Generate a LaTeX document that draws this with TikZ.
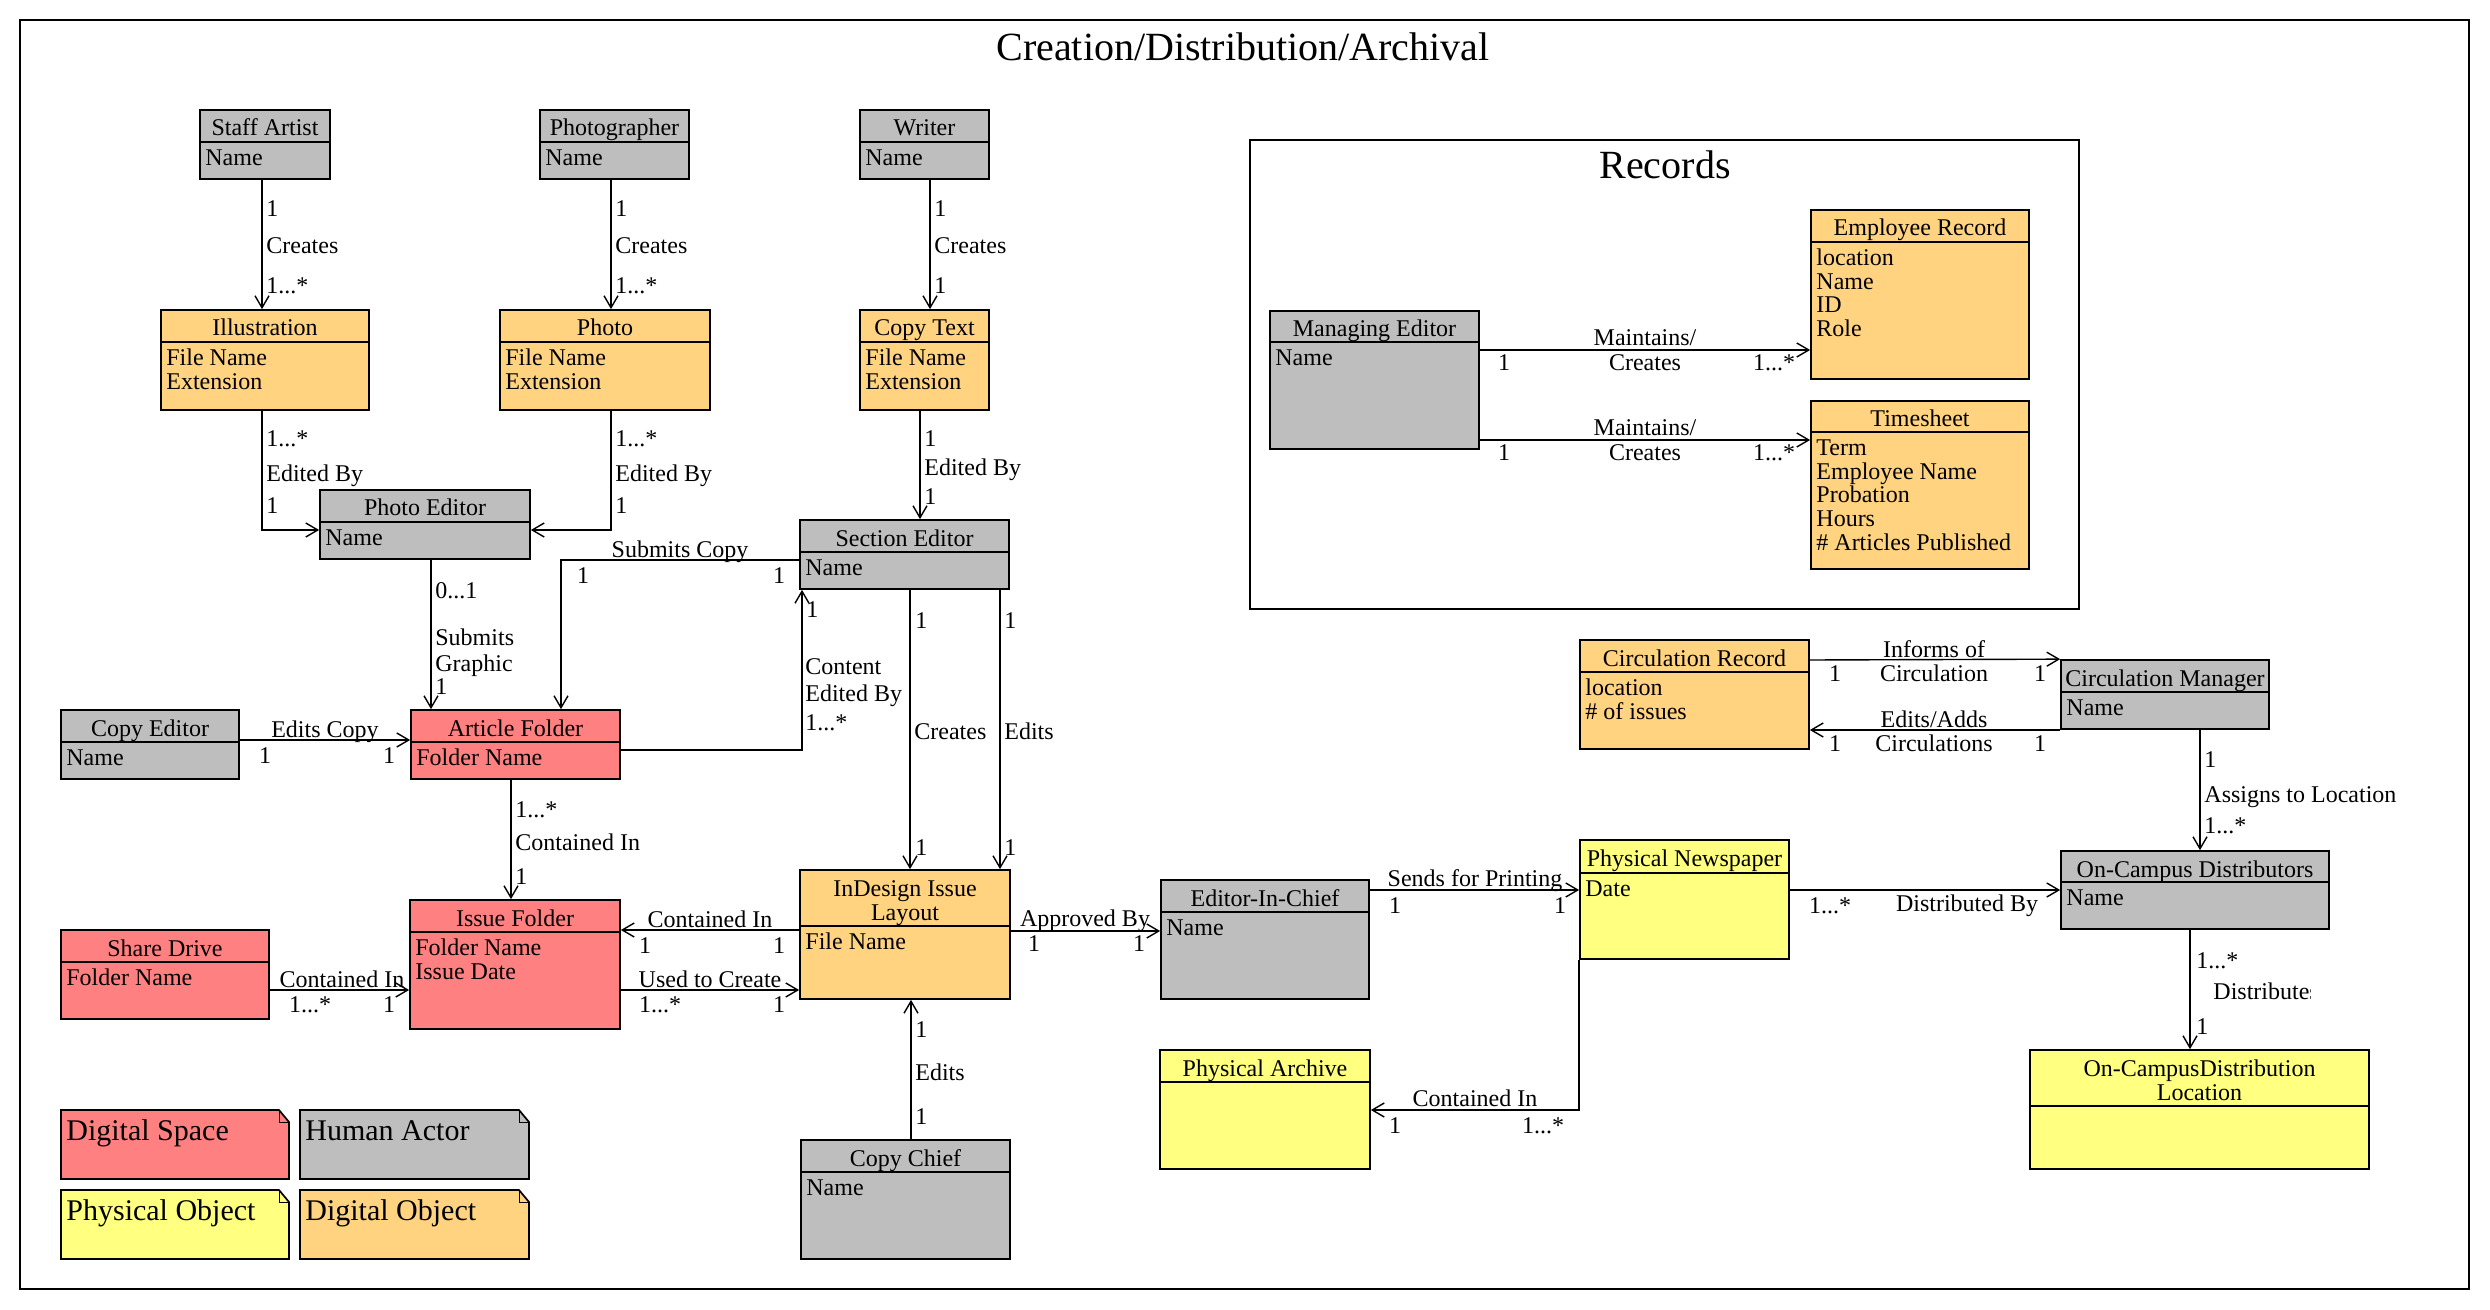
\documentclass[tikz,border=0pt]{standalone}
\usepackage{fontspec}
\setmainfont{Liberation Serif}
\usetikzlibrary{arrows.meta,fit}
\definecolor{actor}{RGB}{190,190,190}
\definecolor{dobj}{RGB}{255,211,128}
\definecolor{dspace}{RGB}{255,128,128}
\definecolor{pobj}{RGB}{255,255,128}
\tikzset{
 classbox/.style={draw, line width=0.85pt, inner sep=0pt},
 divline/.style={line width=0.85pt},
 txt/.style={inner sep=0pt, font=\fontsize{12}{14}\selectfont},
 bigtxt/.style={inner sep=0pt, font=\fontsize{20}{24}\selectfont},
 notetxt/.style={inner sep=0pt, font=\fontsize{15}{18}\selectfont},
 conn/.style={line width=0.7pt, -{Straight Barb[length=6pt,width=7pt]}},
 frameline/.style={line width=0.85pt},
}
\newcount\labn
% name, x1, y1, x2, y2, ydiv, fill, title lines, attribute lines
\newcommand\umlclass[9]{%
 \node[classbox, fill=#7, fit={(#2,#3) (#4,#5)}] (#1) {};
 \draw[divline] (#2,#6) -- (#4,#6);
 \foreach \ttl [count=\j] in {#8} {\node[txt, anchor=base] (#1-t\j) at ({(#2+#4)/2},{#3+26+(\j-1)*24.5}) {\ttl};}
 \foreach \attr [count=\i] in {#9} {\node[txt, anchor=base west] (#1-a\i) at ({#2+5},{#6+23.5+(\i-1)*23.7}) {\attr};}
}
\newcommand\edgelabL[3]{\global\advance\labn by 1 \node[txt, anchor=base west] (lab\the\labn) at (#1,{#2+8}) {#3};}
\newcommand\edgelabC[3]{\global\advance\labn by 1 \node[txt, anchor=base] (lab\the\labn) at (#1,{#2+8}) {#3};}
% name, x1, y1, x2, y2, fill, text
\newcommand\legendnote[7]{%
 \draw[classbox, fill=#6] (#2,#3) -- ({#4-10},#3) -- (#4,{#3+12}) -- (#4,#5) -- (#2,#5) -- cycle;
 \draw[line width=0.5pt] ({#4-10},#3) -- ({#4-10},{#3+12}) -- (#4,{#3+12});
 \node[notetxt, anchor=base west] (#1) at ({#2+5},{#3+30}) {#7};
}
\begin{document}
\begin{tikzpicture}[x=0.5pt,y=-0.5pt]
\useasboundingbox (0,0) rectangle (2490,1310);
\fill[white] (0,0) rectangle (2490,1310);
\draw[frameline] (20,20) rectangle (2469,1289);
\node[bigtxt, anchor=base] (title) at (1243,61) {Creation/Distribution/Archival};
\draw[frameline] (1250,140) rectangle (2079,609);
\node[bigtxt, anchor=base] (rectitle) at (1665,179) {Records};

% classes
\umlclass{sa}{200}{110}{330}{179}{142}{actor}{Staff Artist}{Name}
\umlclass{pg}{540}{110}{689}{179}{142}{actor}{Photographer}{Name}
\umlclass{wr}{860}{110}{989}{179}{142}{actor}{Writer}{Name}
\umlclass{ill}{161}{310}{369}{410}{342}{dobj}{Illustration}{File Name, Extension}
\umlclass{ph}{500}{310}{710}{410}{342}{dobj}{Photo}{File Name, Extension}
\umlclass{ct}{860}{310}{989}{410}{342}{dobj}{Copy Text}{File Name, Extension}
\umlclass{pe}{320}{490}{530}{559}{522}{actor}{Photo Editor}{Name}
\umlclass{se}{800}{520}{1009}{589}{552}{actor}{Section Editor}{Name}
\umlclass{ce}{61}{710}{239}{779}{742}{actor}{Copy Editor}{Name}
\umlclass{af}{411}{710}{620}{779}{742}{dspace}{Article Folder}{Folder Name}
\umlclass{if}{410}{900}{620}{1029}{932}{dspace}{Issue Folder}{Folder Name, Issue Date}
\umlclass{sd}{61}{930}{269}{1019}{962}{dspace}{Share Drive}{Folder Name}
\umlclass{id}{800}{870}{1010}{999}{926}{dobj}{InDesign Issue, Layout}{File Name}
\umlclass{cc}{801}{1140}{1010}{1259}{1172}{actor}{Copy Chief}{Name}
\umlclass{eic}{1161}{880}{1369}{999}{912}{actor}{Editor-In-Chief}{Name}
\umlclass{pn}{1580}{840}{1789}{959}{873}{pobj}{Physical Newspaper}{Date}
\umlclass{pa}{1160}{1050}{1370}{1169}{1082}{pobj}{Physical Archive}{}
\umlclass{cr}{1580}{640}{1809}{749}{672}{dobj}{Circulation Record}{location, \# of issues}
\umlclass{cm}{2061}{660}{2269}{729}{692}{actor}{Circulation Manager}{Name}
\umlclass{ocd}{2061}{851}{2329}{929}{882}{actor}{On-Campus Distributors}{Name}
\umlclass{ocdl}{2030}{1050}{2369}{1169}{1106}{pobj}{On-CampusDistribution, Location}{}
\umlclass{me}{1270}{311}{1479}{449}{342}{actor}{Managing Editor}{Name}
\umlclass{er}{1811}{210}{2029}{379}{242}{dobj}{Employee Record}{location, Name, ID, Role}
\umlclass{ts}{1811}{401}{2029}{569}{432}{dobj}{Timesheet}{Term, Employee Name, Probation, Hours, \# Articles Published}

% legend
\legendnote{lg1}{61}{1110}{289}{1179}{dspace}{Digital Space}
\legendnote{lg2}{300}{1110}{529}{1179}{actor}{Human Actor}
\legendnote{lg3}{61}{1190}{289}{1259}{pobj}{Physical Object}
\legendnote{lg4}{300}{1190}{529}{1259}{dobj}{Digital Object}

% connectors
\draw[conn] (262,0 |- sa.south) -- (262,0 |- ill.north);
\edgelabL{266}{209}{1}\edgelabL{266}{246}{Creates}\edgelabL{266}{286}{1...*}
\draw[conn] (611,0 |- pg.south) -- (611,0 |- ph.north);
\edgelabL{615}{209}{1}\edgelabL{615}{246}{Creates}\edgelabL{615}{286}{1...*}
\draw[conn] (262,0 |- ill.south) |- (pe.west |- 0,530);
\edgelabL{266}{439}{1...*}\edgelabL{266}{473}{Edited By}\edgelabL{266}{506}{1}
\draw[conn] (611,0 |- ph.south) |- (pe.east |- 0,530);
\edgelabL{615}{439}{1...*}\edgelabL{615}{473}{Edited By}\edgelabL{615}{506}{1}
\draw[conn] (930,0 |- wr.south) -- (930,0 |- ct.north);
\edgelabL{934}{209}{1}\edgelabL{934}{246}{Creates}\edgelabL{934}{286}{1}
\draw[conn] (920,0 |- ct.south) -- (920,0 |- se.north);
\edgelabL{924}{439}{1}\edgelabL{924}{468}{Edited By}\edgelabL{924}{496}{1}
\draw[conn] (431,0 |- pe.south) -- (431,0 |- af.north);
\edgelabL{435}{590}{0...1}\edgelabL{435}{637}{Submits}\edgelabL{435}{663}{Graphic}\edgelabL{435}{686}{1}
\draw[conn] (se.west |- 0,560) -| (561,0 |- af.north);
\edgelabC{680}{549}{Submits Copy}\edgelabC{583}{575}{1}\edgelabC{779}{575}{1}
\draw[conn] (ce.east |- 0,740) -- (af.west |- 0,740);
\edgelabC{325}{729}{Edits Copy}\edgelabC{265}{755}{1}\edgelabC{389}{755}{1}
\draw[conn] (af.east |- 0,750) -| (802,0 |- se.south);
\edgelabL{806}{609}{1}\edgelabL{805}{666}{Content}\edgelabL{805}{693}{Edited By}\edgelabL{805}{722}{1...*}
\draw[conn] (511,0 |- af.south) -- (511,0 |- if.north);
\edgelabL{515}{809}{1...*}\edgelabL{515}{842}{Contained In}\edgelabL{515}{876}{1}
\draw[conn] (910,0 |- se.south) -- (910,0 |- id.north);
\edgelabL{915}{620}{1}\edgelabL{914}{731}{Creates}\edgelabL{915}{847}{1}
\draw[conn] (1000,0 |- se.south) -- (1000,0 |- id.north);
\edgelabL{1004}{620}{1}\edgelabL{1004}{731}{Edits}\edgelabL{1004}{847}{1}
\draw[conn] (id.west |- 0,930) -- (if.east |- 0,930);
\edgelabC{710}{919}{Contained In}\edgelabC{645}{945}{1}\edgelabC{779}{945}{1}
\draw[conn] (if.east |- 0,990) -- (id.west |- 0,990);
\edgelabC{710}{979}{Used to Create}\edgelabC{660}{1004}{1...*}\edgelabC{779}{1004}{1}
\draw[conn] (sd.east |- 0,990) -- (if.west |- 0,990);
\edgelabC{342}{979}{Contained In}\edgelabC{310}{1004}{1...*}\edgelabC{389}{1004}{1}
\draw[conn] (911,0 |- cc.north) -- (911,0 |- id.south);
\edgelabL{915}{1029}{1}\edgelabL{915}{1072}{Edits}\edgelabL{915}{1116}{1}
\draw[conn] (id.east |- 0,931) -- (eic.west |- 0,931);
\edgelabC{1085}{918}{Approved By}\edgelabC{1034}{943}{1}\edgelabC{1139}{943}{1}
\draw[conn] (eic.east |- 0,890) -- (pn.west |- 0,890);
\edgelabC{1475}{878}{Sends for Printing}\edgelabC{1395}{905}{1}\edgelabC{1560}{905}{1}
\draw[conn] (pn.east |- 0,890) -- (ocd.west |- 0,890);
\edgelabC{1967}{903}{Distributed By}\edgelabC{1830}{905}{1...*}
\draw[conn] (pn.south west) |- (pa.east |- 0,1110);
\edgelabC{1475}{1098}{Contained In}\edgelabC{1395}{1125}{1}\edgelabC{1543}{1125}{1...*}
\draw[conn] (cr.east |- 0,660) -- (cm.north west);
\edgelabC{1934}{649}{Informs of}\edgelabC{1934}{673}{Circulation}\edgelabC{1835}{673}{1}\edgelabC{2040}{673}{1}
\draw[conn] (cm.west |- 0,730) -- (cr.east |- 0,730);
\edgelabC{1934}{719}{Edits/Adds}\edgelabC{1934}{743}{Circulations}\edgelabC{1835}{743}{1}\edgelabC{2040}{743}{1}
\draw[conn] (2200,0 |- cm.south) -- (2200,0 |- ocd.north);
\edgelabL{2204}{759}{1}\edgelabL{2204}{794}{Assigns to Location}\edgelabL{2204}{825}{1...*}
\draw[conn] (2190,0 |- ocd.south) -- (2190,0 |- ocdl.north);
\edgelabL{2196}{960}{1...*}\edgelabL{2196}{1026}{1}
\begin{scope}
\clip (2200,970) rectangle (2310,1012);
\node[txt, anchor=base west] (labdist) at (2213,999) {Distributes};
\end{scope}
\draw[conn] (me.east |- 0,350) -- (er.west |- 0,350);
\edgelabC{1645}{338}{Maintains/}\edgelabC{1645}{363}{Creates}\edgelabC{1504}{363}{1}\edgelabC{1774}{363}{1...*}
\draw[conn] (me.east |- 0,440) -- (ts.west |- 0,440);
\edgelabC{1645}{428}{Maintains/}\edgelabC{1645}{453}{Creates}\edgelabC{1504}{453}{1}\edgelabC{1774}{453}{1...*}
\end{tikzpicture}
\end{document}
